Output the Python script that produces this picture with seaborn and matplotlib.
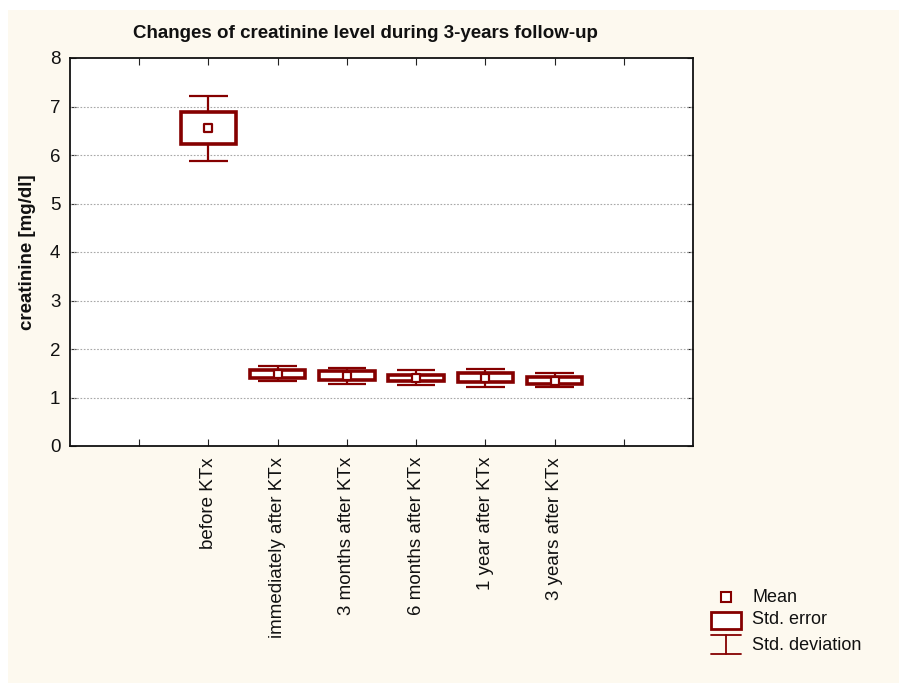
import matplotlib
matplotlib.use("Agg")
import matplotlib.pyplot as plt
from matplotlib.patches import Rectangle
from matplotlib.lines import Line2D
import seaborn as sns
import pandas as pd

# Follow-up time points and creatinine summary statistics [mg/dl]
timepoints = ["before KTx", "immediately after KTx", "3 months after KTx",
              "6 months after KTx", "1 year after KTx", "3 years after KTx"]
mean = [6.55, 1.48, 1.45, 1.40, 1.40, 1.35]
se_low = [6.22, 1.41, 1.37, 1.33, 1.31, 1.27]
se_high = [6.88, 1.57, 1.55, 1.47, 1.50, 1.43]
sd_low = [5.88, 1.33, 1.28, 1.26, 1.21, 1.21]
sd_high = [7.22, 1.65, 1.61, 1.57, 1.59, 1.51]
y_ticks = [0, 1, 2, 3, 4, 5, 6, 7, 8]
legend_labels = ["Mean", "Std. error", "Std. deviation"]

sns.set_theme(style="white")
plt.rcParams["font.family"] = ["Liberation Sans", "DejaVu Sans"]

MAROON = "#850000"
CREAM = "#fdf9ef"
TXT = "#111111"

df = pd.DataFrame({
    "pos": list(range(2, 2 + len(timepoints))),
    "timepoint": timepoints,
    "mean": mean,
    "se_low": se_low, "se_high": se_high,
    "sd_low": sd_low, "sd_high": sd_high,
})

W, H = 899, 683
fig = plt.figure(figsize=(W / 100, H / 100), dpi=100, facecolor="white")
fig.patches.append(Rectangle((8 / W, 0), 1, 1 - 10 / H, transform=fig.transFigure,
                             facecolor=CREAM, edgecolor="none", zorder=-10))

ax = fig.add_axes([70 / W, 1 - 446 / H, (693 - 70) / W, (446 - 58) / H])
ax.set_facecolor("white")

box_w = 0.8
cap_w = 0.56

# Standard deviation whiskers with caps
ax.vlines(df["pos"], df["sd_low"], df["sd_high"], color=MAROON, lw=1.6, zorder=2)
ax.hlines(df["sd_low"], df["pos"] - cap_w / 2, df["pos"] + cap_w / 2, color=MAROON, lw=1.6, zorder=2)
ax.hlines(df["sd_high"], df["pos"] - cap_w / 2, df["pos"] + cap_w / 2, color=MAROON, lw=1.6, zorder=2)

# Standard error boxes
ax.bar(df["pos"], df["se_high"] - df["se_low"], bottom=df["se_low"], width=box_w,
       color="white", edgecolor=MAROON, linewidth=2.6, zorder=3)

# Means
sns.scatterplot(data=df, x="pos", y="mean", marker="s", s=40, color="white",
                edgecolor=MAROON, linewidth=1.6, zorder=4, ax=ax, legend=False)

ax.set_xlim(0, 9)
ax.set_ylim(0, 8)
ax.set_xticks(range(1, 9))
ax.set_xticklabels([""] + timepoints + [""], rotation=90, fontsize=13.5, color=TXT)
ax.set_yticks(y_ticks)
ax.set_yticklabels([str(t) for t in y_ticks], fontsize=13.5, color=TXT)
ax.tick_params(axis="x", direction="in", length=5, width=0.8, top=True, bottom=True,
               pad=8, color="#222222")
ax.tick_params(axis="y", direction="in", length=4, width=0.8, left=True, right=True,
               pad=7, color="#222222")
ax.set_xlabel("")
ax.set_ylabel("creatinine [mg/dl]", fontsize=13.5, fontweight="bold", labelpad=10, color=TXT)

for v in y_ticks[1:-1]:
    ax.axhline(v, color="#a8a8a8", lw=0.8, ls=(0, (1.5, 1.5)), zorder=1)

for sp in ax.spines.values():
    sp.set_color(TXT)
    sp.set_linewidth(1.3)

fig.text(365 / W, 1 - 33 / H, "Changes of creatinine level during 3-years follow-up",
         ha="center", va="center", fontsize=13.5, fontweight="bold", color=TXT)

# Legend symbols drawn in figure coordinates
ys = [597, 620, 645]
fig.add_artist(Line2D([726 / W], [1 - ys[0] / H], transform=fig.transFigure, ls="none",
                      marker="s", markersize=6.5, markerfacecolor="white",
                      markeredgecolor=MAROON, markeredgewidth=1.5))
fig.add_artist(Rectangle((711 / W, 1 - 629 / H), 30 / W, 17 / H, transform=fig.transFigure,
                         facecolor="white", edgecolor=MAROON, linewidth=2))
for yy in (635, 654):
    fig.add_artist(Line2D([711 / W, 741 / W], [1 - yy / H] * 2, transform=fig.transFigure,
                          color=MAROON, lw=1.3))
fig.add_artist(Line2D([726 / W, 726 / W], [1 - 635 / H, 1 - 654 / H], transform=fig.transFigure,
                      color=MAROON, lw=1.3))
for label, y in zip(legend_labels, ys):
    fig.text(752 / W, 1 - y / H, label, ha="left", va="center", fontsize=13, color=TXT)

fig.savefig("out.png", dpi=100, facecolor=fig.get_facecolor())
